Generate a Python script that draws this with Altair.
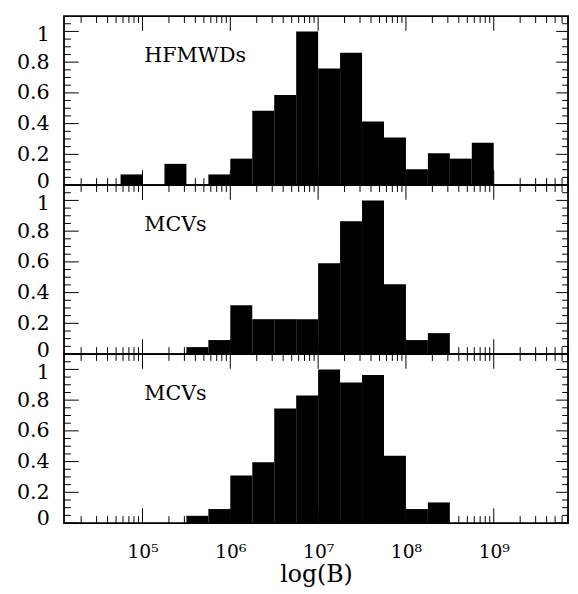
import altair as alt
import pandas as pd

# ---- data: lower edge (log10 B) of each 0.25-dex bin and normalised height ----
hf_lo = [4.75, 5.25, 5.75, 6.0, 6.25, 6.5, 6.75, 7.0, 7.25, 7.5, 7.75, 8.0, 8.25, 8.5, 8.75]
hf_h = [0.069, 0.138, 0.069, 0.172, 0.483, 0.586, 1.0, 0.759, 0.862, 0.414, 0.310, 0.103, 0.207, 0.172, 0.276]

mcv1_lo = [5.5, 5.75, 6.0, 6.25, 6.5, 6.75, 7.0, 7.25, 7.5, 7.75, 8.0, 8.25]
mcv1_h = [0.045, 0.091, 0.318, 0.227, 0.227, 0.227, 0.591, 0.864, 1.0, 0.455, 0.091, 0.136]

mcv2_lo = [5.5, 5.75, 6.0, 6.25, 6.5, 6.75, 7.0, 7.25, 7.5, 7.75, 8.0, 8.25]
mcv2_h = [0.047, 0.091, 0.310, 0.396, 0.745, 0.830, 1.0, 0.915, 0.964, 0.438, 0.091, 0.134]

panel_labels = ["HFMWDs", "MCVs", "MCVs"]
bin_width = 0.25

x_ticks_major = [1e5, 1e6, 1e7, 1e8, 1e9]
x_tick_labels = ["10⁵", "10⁶", "10⁷", "10⁸", "10⁹"]
y_ticks_major = [0, 0.2, 0.4, 0.6, 0.8, 1.0]
x_title = "log(B)"

# ---- layout / style ----
FONT = "DejaVu Serif"
W, H = 513, 172
LOGMIN, LOGMAX = 4.106, 9.846
ANN_LOGX, ANN_Y = 5.02, 0.80

xs = alt.Scale(type="log", domain=[10 ** LOGMIN, 10 ** LOGMAX], nice=False)
ys = alt.Scale(domain=[0, 1.1], nice=False)

x_minor = [m * 10 ** k for k in range(4, 10) for m in range(2, 10)
           if 10 ** LOGMIN < m * 10 ** k < 10 ** LOGMAX]
y_minor = [round(0.05 * k, 2) for k in range(1, 22) if k % 4 != 0]

label_expr = " : ".join(
    f"round(log(datum.value)/LN10) == {k} ? '{l}'"
    for k, l in zip([5, 6, 7, 8, 9], x_tick_labels)
) + " : ''"

YAXIS = alt.Axis(values=y_ticks_major, format="~g", ticks=False, tickSize=0, domain=False,
                 grid=False, labelFont=FONT, labelFontSize=21, labelColor="black",
                 labelPadding=15,
                 labelOffset={"condition": [{"test": "datum.value == 0", "value": -4},
                                            {"test": "datum.value == 1", "value": 3}],
                              "value": 0},
                 title=None)
XAXIS_BOTTOM = alt.Axis(values=x_ticks_major, labelExpr=label_expr, ticks=False, tickSize=0,
                        domain=False, grid=False, labelFont=FONT, labelFontSize=19,
                        labelColor="black", labelPadding=20, labelFlush=False,
                        title=x_title, titleFont=FONT, titleFontSize=24,
                        titleFontWeight="normal", titleColor="black", titlePadding=2)


def panel(lo, h, label, bottom):
    xaxis = XAXIS_BOTTOM if bottom else None
    xtitle = x_title if bottom else None

    def X(f):
        return alt.X(f, scale=xs, axis=xaxis, title=xtitle)

    def Y(f):
        return alt.Y(f, scale=ys, axis=YAXIS, title=None)

    df = pd.DataFrame({
        "lo": [10 ** v for v in lo],
        "hi": [10 ** (v + bin_width) for v in lo],
        "h": h,
    })
    bars = alt.Chart(df).mark_rect(color="black").encode(
        x=X("lo:Q"), x2="hi:Q", y=Y("h:Q"), y2=alt.datum(0),
    )
    ann = alt.Chart(pd.DataFrame({"x": [10 ** ANN_LOGX], "y": [ANN_Y], "t": [label]})).mark_text(
        align="left", baseline="alphabetic", font=FONT, fontSize=21, color="black"
    ).encode(x=X("x:Q"), y=Y("y:Q"), text="t:N")

    def xticks(vals, length):
        base = alt.Chart(pd.DataFrame({"v": vals})).mark_rule(color="black", strokeWidth=1)
        return [base.encode(x=X("v:Q"), y=alt.value(0), y2=alt.value(length)),
                base.encode(x=X("v:Q"), y=alt.value(H), y2=alt.value(H - length))]

    def yticks(vals, llen, rlen):
        base = alt.Chart(pd.DataFrame({"v": vals})).mark_rule(color="black", strokeWidth=1)
        return [base.encode(y=Y("v:Q"), x=alt.value(0), x2=alt.value(llen)),
                base.encode(y=Y("v:Q"), x=alt.value(W), x2=alt.value(W - rlen))]

    layers = [bars, ann]
    layers += xticks(x_ticks_major, 15) + xticks(x_minor, 7)
    layers += yticks(y_ticks_major, 15, 12) + yticks(y_minor, 7, 6)
    return alt.layer(*layers).properties(width=W, height=H)


chart = alt.vconcat(
    panel(hf_lo, hf_h, panel_labels[0], False),
    panel(mcv1_lo, mcv1_h, panel_labels[1], False),
    panel(mcv2_lo, mcv2_h, panel_labels[2], True),
    spacing=0,
    bounds="flush",
).properties(
    padding={"left": 7, "top": 1, "right": 0, "bottom": 0},
    background="white",
).configure_view(
    stroke="black", strokeWidth=1.8
)

chart.save("out.html", embed_options={"renderer": "svg", "actions": False})
